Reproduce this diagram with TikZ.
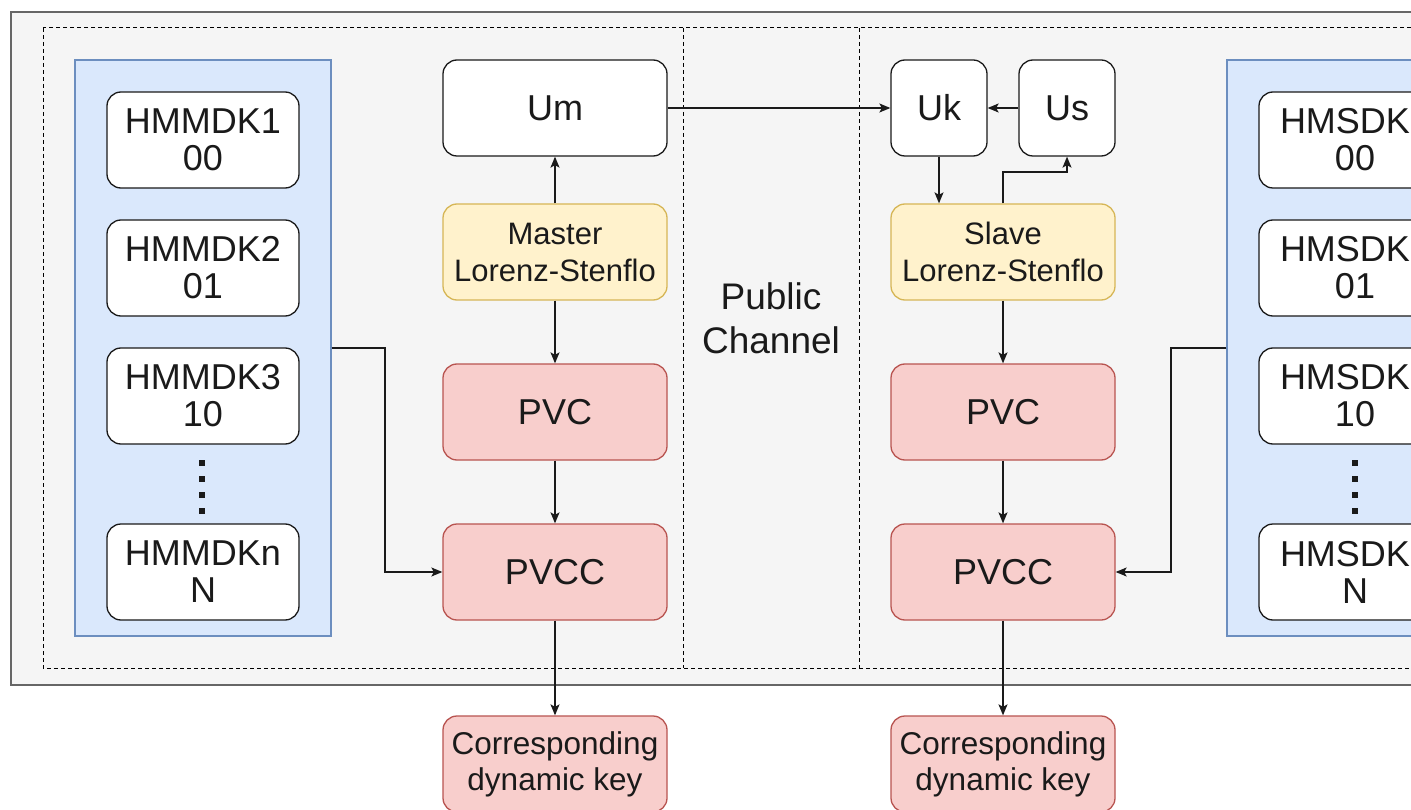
\documentclass[tikz,border=0pt]{standalone}
\usepackage{fontspec}
\setmainfont{Liberation Sans}
\usetikzlibrary{arrows.meta}

\definecolor{bgfill}{HTML}{F5F5F5}
\definecolor{bgdraw}{HTML}{666666}
\definecolor{bluefill}{HTML}{DAE8FC}
\definecolor{bluedraw}{HTML}{6C8EBF}
\definecolor{yelfill}{HTML}{FFF2CC}
\definecolor{yeldraw}{HTML}{D6B656}
\definecolor{redfill}{HTML}{F8CECC}
\definecolor{reddraw}{HTML}{B85450}
\definecolor{ink}{HTML}{1A1A1A}

\tikzset{
  base/.style={rectangle, rounded corners=14pt, inner sep=0pt, align=center,
    line width=1.3pt, text=ink},
  keybox/.style={base, draw=ink, fill=white, minimum width=192pt, minimum height=96pt,
    font=\fontsize{36}{37}\selectfont},
  ubox/.style={base, draw=ink, fill=white, minimum height=96pt,
    font=\fontsize{36}{40}\selectfont},
  chaos/.style={base, draw=yeldraw, fill=yelfill, minimum width=224pt, minimum height=96pt,
    font=\fontsize{31}{37}\selectfont},
  proc/.style={base, draw=reddraw, fill=redfill, minimum width=224pt, minimum height=96pt,
    font=\fontsize{36}{40}\selectfont},
  outkey/.style={base, draw=reddraw, fill=redfill, minimum width=224pt, minimum height=96pt,
    font=\fontsize{31.5}{36}\selectfont},
  panel/.style={rectangle, draw=bluedraw, fill=bluefill, line width=1.3pt,
    minimum width=256pt, minimum height=576pt, inner sep=0pt},
  link/.style={draw=ink, line width=1.3pt, -{Stealth[length=11pt,width=9pt,inset=2.5pt]}},
  zone/.style={draw=black, line width=1pt, dash pattern=on 4pt off 3pt},
  dotmark/.style={fill=ink}
}

\begin{document}
\begin{tikzpicture}[x=1pt,y=-1pt]
\useasboundingbox (0,0) rectangle (1411,810);
\clip (0,0) rectangle (1411,810);
\fill[white] (0,0) rectangle (1411,810);

% enclosing frame and the three dashed zones
\draw[fill=bgfill, draw=bgdraw, line width=1.5pt] (11,12) rectangle (1500,685);
\draw[zone] (43,28) rectangle (1480,668);
\draw[zone] (683,28) -- (683,668);
\draw[zone] (859,28) -- (859,668);

\node[font=\fontsize{37}{44}\selectfont, align=center, text=ink] (pub) at (771,318) {Public\\Channel};

% master side key table
\node[panel] (lpanel) at (203,348) {};
\node[keybox] (m1) at (203,140) {HMMDK1\\00};
\node[keybox] (m2) at (203,268) {HMMDK2\\01};
\node[keybox] (m3) at (203,396) {HMMDK3\\10};
\node[keybox] (mn) at (203,572) {HMMDKn\\N};
\foreach \yy in {460,476,492,508} \fill[dotmark] (199,\yy) rectangle ++(6,6);

% slave side key table
\node[panel] (rpanel) at (1355,348) {};
\node[keybox] (s1) at (1355,140) {HMSDK1\\00};
\node[keybox] (s2) at (1355,268) {HMSDK2\\01};
\node[keybox] (s3) at (1355,396) {HMSDK3\\10};
\node[keybox] (sn) at (1355,572) {HMSDKn\\N};
\foreach \yy in {460,476,492,508} \fill[dotmark] (1352,\yy) rectangle ++(6,6);

% master chain
\node[ubox, minimum width=224pt] (um) at (555,108) {Um};
\node[chaos] (master) at (555,252) {Master\\Lorenz-Stenflo};
\node[proc] (pvcm) at (555,412) {PVC};
\node[proc] (pvccm) at (555,572) {PVCC};
\node[outkey] (keym) at (555,764) {Corresponding\\dynamic key};

% slave chain
\node[ubox, minimum width=96pt] (uk) at (939,108) {Uk};
\node[ubox, minimum width=96pt] (us) at (1067,108) {Us};
\node[chaos] (slave) at (1003,252) {Slave\\Lorenz-Stenflo};
\node[proc] (pvcs) at (1003,412) {PVC};
\node[proc] (pvccs) at (1003,572) {PVCC};
\node[outkey] (keys) at (1003,764) {Corresponding\\dynamic key};

% connectors
\draw[link] (master.north) -- (um.south);
\draw[link] (master.south) -- (pvcm.north);
\draw[link] (pvcm.south) -- (pvccm.north);
\draw[link] (pvccm.south) -- (keym.north);
\draw[link] (lpanel.east) -| (385,572) -- (pvccm.west);

\draw[link] (um.east) -- (uk.west);
\draw[link] (us.west) -- (uk.east);
\draw[link] (uk.south) -- (uk.south |- slave.north);
\draw[link] (slave.north) -- (1003,172) -| (us.south);
\draw[link] (slave.south) -- (pvcs.north);
\draw[link] (pvcs.south) -- (pvccs.north);
\draw[link] (pvccs.south) -- (keys.north);
\draw[link] (rpanel.west) -| (1171,572) -- (pvccs.east);
\end{tikzpicture}
\end{document}
